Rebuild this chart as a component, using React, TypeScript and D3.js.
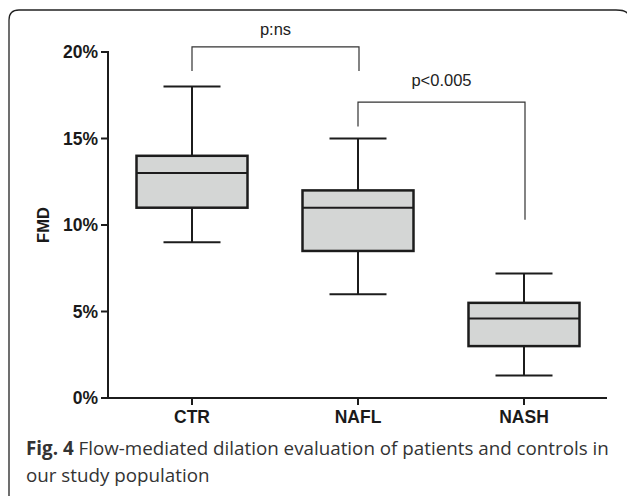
import React from 'react';
import { scaleLinear, scalePoint } from 'd3';

// data (FMD, %)
const groups = ['CTR', 'NAFL', 'NASH'];
const whiskerLow = [9, 6, 1.3];
const q1 = [11, 8.5, 3];
const median = [13, 11, 4.6];
const q3 = [14, 12, 5.5];
const whiskerHigh = [18, 15, 7.2];
const yTicks = [0, 5, 10, 15, 20];

// significance brackets: from group, to group, bracket level %, leg ends %, label
const bracketFrom = [0, 1];
const bracketTo = [1, 2];
const bracketLevel = [20.3, 17.1];
const bracketLeftEnd = [18.9, 15.7];
const bracketRightEnd = [18.9, 10.3];
const bracketLabels = ['p:ns', 'p<0.005'];

export default function App() {
  const width = 627,
    height = 496;

  const y = scaleLinear().domain([0, 20]).range([398, 52]);
  const x = scalePoint().domain(groups).range([192, 524]);

  const boxW = 111;
  const capW = 57;
  const ink = '#1c1c1c';
  const labelLift = [12, 16];
  const sans = 'Liberation Sans, Arial, sans-serif';

  return (
    <svg width={width} height={height} style={{ position: 'absolute', left: 0, top: 0 }}>
      <rect width={width} height={height} fill="white" />
      {/* figure frame */}
      <path
        d="M 9 496 L 9 20 Q 9 10 19 10 L 616 10 Q 626 10 628 14"
        fill="none"
        stroke="#222"
        strokeWidth={1.3}
      />

      {/* y axis */}
      <line x1={108} x2={108} y1={y(20) - 1} y2={y(0) + 1} stroke={ink} strokeWidth={2} />
      {yTicks.map((t) => (
        <g key={t}>
          <line x1={101} x2={108} y1={y(t)} y2={y(t)} stroke={ink} strokeWidth={2} />
          <text
            x={98}
            y={y(t)}
            dy="0.36em"
            textAnchor="end"
            fontFamily={sans}
            fontWeight="bold"
            fontSize={17.5}
            fill="#1a1a1a"
          >
            {t + '%'}
          </text>
        </g>
      ))}
      <text
        transform={`translate(49, ${y(10)}) rotate(-90)`}
        textAnchor="middle"
        fontFamily={sans}
        fontWeight="bold"
        fontSize={16.5}
        fill="#1a1a1a"
      >
        FMD
      </text>

      {/* x axis */}
      <line x1={107} x2={607} y1={y(0)} y2={y(0)} stroke={ink} strokeWidth={2} />
      {groups.map((g) => (
        <g key={g}>
          <line x1={x(g)} x2={x(g)} y1={y(0)} y2={y(0) + 7} stroke={ink} strokeWidth={2} />
          <text
            x={x(g)}
            y={423}
            textAnchor="middle"
            fontFamily={sans}
            fontWeight="bold"
            fontSize={17.5}
            fill="#1a1a1a"
          >
            {g}
          </text>
        </g>
      ))}

      {/* boxes */}
      {groups.map((g, i) => {
        const cx = x(g) as number;
        return (
          <g key={g}>
            <line x1={cx} x2={cx} y1={y(whiskerHigh[i])} y2={y(q3[i])} stroke={ink} strokeWidth={2} />
            <line x1={cx} x2={cx} y1={y(q1[i])} y2={y(whiskerLow[i])} stroke={ink} strokeWidth={2} />
            <line x1={cx - capW / 2} x2={cx + capW / 2} y1={y(whiskerHigh[i])} y2={y(whiskerHigh[i])} stroke={ink} strokeWidth={2} />
            <line x1={cx - capW / 2} x2={cx + capW / 2} y1={y(whiskerLow[i])} y2={y(whiskerLow[i])} stroke={ink} strokeWidth={2} />
            <rect
              x={cx - boxW / 2}
              y={y(q3[i])}
              width={boxW}
              height={y(q1[i]) - y(q3[i])}
              fill="#d4d6d5"
              stroke={ink}
              strokeWidth={2.5}
            />
            <line x1={cx - boxW / 2} x2={cx + boxW / 2} y1={y(median[i])} y2={y(median[i])} stroke={ink} strokeWidth={2} />
          </g>
        );
      })}

      {/* significance brackets */}
      {bracketLabels.map((label, k) => {
        const xa = x(groups[bracketFrom[k]]) as number;
        const xb = (x(groups[bracketTo[k]]) as number) + 1;
        const lvl = y(bracketLevel[k]);
        return (
          <g key={label}>
            <path
              d={`M ${xa} ${y(bracketLeftEnd[k])} L ${xa} ${lvl} L ${xb} ${lvl} L ${xb} ${y(bracketRightEnd[k])}`}
              fill="none"
              stroke="#333"
              strokeWidth={1.2}
            />
            <text
              x={(xa + xb) / 2}
              y={lvl - labelLift[k]}
              textAnchor="middle"
              fontFamily={sans}
              fontSize={16.5}
              fill="#222"
            >
              {label}
            </text>
          </g>
        );
      })}

      {/* caption */}
      <text x={26} y={455} fontFamily="Open Sans, Noto Sans, sans-serif" fontSize={18.8} fill="#333">
        <tspan fontWeight="bold">Fig. 4</tspan>
        <tspan> Flow-mediated dilation evaluation of patients and controls in</tspan>
      </text>
      <text x={26} y={482} fontFamily="Open Sans, Noto Sans, sans-serif" fontSize={18.8} fill="#333">
        our study population
      </text>
    </svg>
  );
}
